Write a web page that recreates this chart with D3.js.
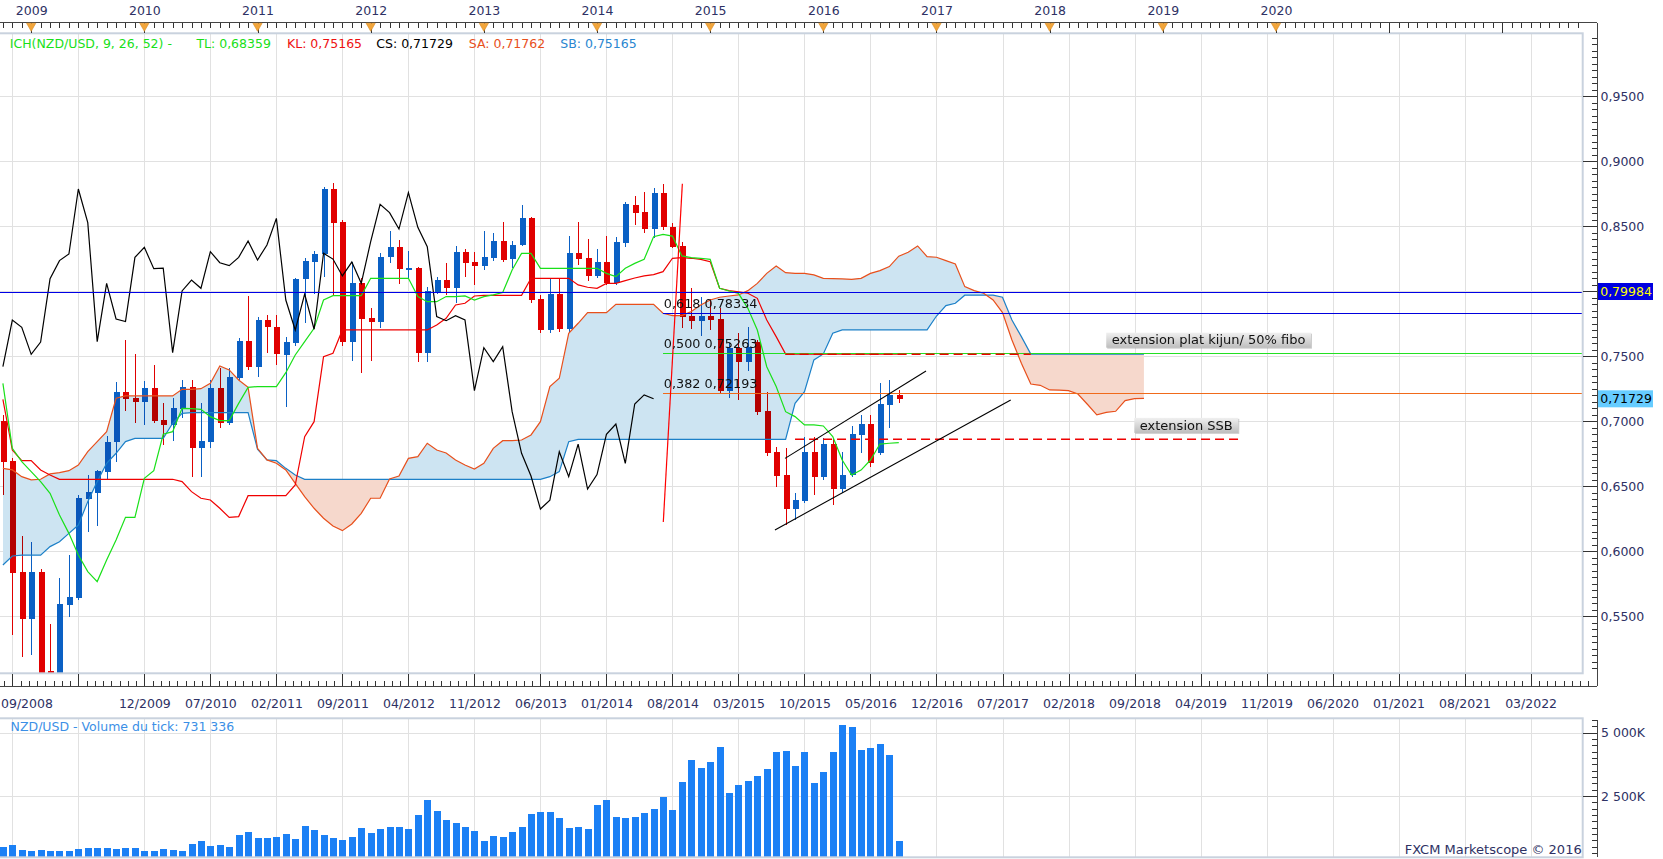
<!DOCTYPE html>
<html><head><meta charset="utf-8">
<script src="https://cdn.jsdelivr.net/npm/d3@7"></script>
<style>
html,body{margin:0;padding:0;background:#fff;}
svg{display:block;font-family:"DejaVu Sans",Verdana,sans-serif;}
</style></head><body>
<svg id="chart" width="1663" height="859"></svg>
<script>
// ---------------- DATA (monthly candles, first = 09/2008) ----------------
const firstMonth = "09/2008";
const open = [0.7000,0.6695,0.5841,0.5482,0.5841,0.5082,0.5040,0.5589,0.5643,0.6405,
0.6451,0.6613,0.6843,0.7225,0.7177,0.7151,0.7256,0.7010,0.6972,0.7095,
0.7264,0.6797,0.6838,0.7256,0.6985,0.7336,0.7618,0.7420,0.7779,0.7725,
0.7513,0.7605,0.8092,0.8225,0.8284,0.8787,0.8533,0.7613,0.8061,0.7797,
0.7767,0.8261,0.8338,0.8177,0.8179,0.7528,0.7997,0.8087,0.8023,0.8305,
0.8225,0.8197,0.8259,0.8387,0.8246,0.8356,0.8561,0.7938,0.7702,0.7979,
0.7710,0.8292,0.8254,0.8118,0.8225,0.8061,0.8374,0.8664,0.8610,0.8479,
0.8759,0.8492,0.8348,0.7813,0.7774,0.7813,0.7787,0.7236,0.7566,0.7459,
0.7613,0.7082,0.6767,0.6587,0.6325,0.6389,0.6766,0.6574,0.6825,0.6479,
0.6587,0.6895,0.6979,0.6759,0.7128,0.7203];
const high = [0.7050,0.6720,0.6118,0.6074,0.5860,0.5441,0.5792,0.5972,0.6430,0.6585,
0.6626,0.6887,0.7305,0.7625,0.7518,0.7313,0.7433,0.7138,0.7177,0.7318,
0.7318,0.7138,0.7318,0.7407,0.7407,0.7643,0.7966,0.7805,0.7818,0.7818,
0.7651,0.8105,0.8259,0.8313,0.8800,0.8836,0.8550,0.8228,0.8100,0.7869,
0.8292,0.8464,0.8395,0.8310,0.8185,0.8036,0.8113,0.8215,0.8349,0.8323,
0.8305,0.8464,0.8451,0.8531,0.8387,0.8664,0.8570,0.7970,0.8100,0.8100,
0.8425,0.8531,0.8402,0.8326,0.8425,0.8420,0.8689,0.8733,0.8766,0.8792,
0.8825,0.8523,0.8380,0.8023,0.7959,0.7938,0.7869,0.7600,0.7677,0.7728,
0.7625,0.7228,0.6805,0.6792,0.6451,0.6882,0.6882,0.6869,0.6869,0.6766,
0.6964,0.7049,0.7049,0.7292,0.7318,0.7241];
const low = [0.6433,0.5356,0.5190,0.5202,0.4990,0.4900,0.4950,0.5492,0.5626,0.6151,
0.6195,0.6549,0.6690,0.7082,0.6990,0.6972,0.6990,0.6818,0.6851,0.7023,
0.6569,0.6574,0.6797,0.6951,0.6970,0.7320,0.7395,0.7343,0.7528,0.7433,
0.7113,0.7580,0.7759,0.7977,0.8113,0.7972,0.7580,0.7464,0.7374,0.7466,
0.7715,0.8215,0.8056,0.8100,0.7459,0.7459,0.7979,0.7972,0.7912,0.8107,
0.8048,0.8164,0.8230,0.8228,0.8177,0.8350,0.7910,0.7682,0.7677,0.7690,
0.7690,0.8202,0.8080,0.8100,0.8048,0.8050,0.8343,0.8510,0.8451,0.8407,
0.8470,0.8330,0.7715,0.7707,0.7656,0.7700,0.7210,0.7177,0.7164,0.7387,
0.7050,0.6730,0.6497,0.6202,0.6240,0.6370,0.6433,0.6550,0.6356,0.6446,
0.6574,0.6759,0.6650,0.6740,0.6951,0.7140];
const close = [0.6690,0.5836,0.5482,0.5841,0.5040,0.5040,0.5595,0.5651,0.6410,0.6456,
0.6620,0.6843,0.7225,0.7169,0.7151,0.7256,0.7005,0.6972,0.7100,0.7261,
0.6797,0.6848,0.7256,0.6985,0.7338,0.7618,0.7420,0.7779,0.7723,0.7515,
0.7610,0.8097,0.8236,0.8287,0.8787,0.8528,0.7613,0.8061,0.7787,0.7767,
0.8261,0.8338,0.8174,0.8179,0.7528,0.8003,0.8087,0.8023,0.8305,0.8220,
0.8197,0.8261,0.8387,0.8241,0.8356,0.8561,0.7933,0.7702,0.7979,0.7708,
0.8292,0.8248,0.8118,0.8225,0.8061,0.8382,0.8669,0.8605,0.8479,0.8759,
0.8492,0.8343,0.7805,0.7774,0.7813,0.7780,0.7236,0.7566,0.7459,0.7574,
0.7074,0.6754,0.6579,0.6325,0.6394,0.6766,0.6574,0.6825,0.6479,0.6590,
0.6900,0.6979,0.6677,0.7133,0.7203,0.71729];
// Ichimoku lines
const tenkan = [0.7292,0.6792,0.6690,0.6613,0.6536,0.6446,0.6279,0.6138,0.5972,0.5844,
0.5767,0.5933,0.6087,0.6261,0.6261,0.6561,0.6620,0.6900,0.6920,0.7100,
0.7097,0.7092,0.7036,0.7005,0.7005,0.7138,0.7261,0.7267,0.7267,0.7267,
0.7374,0.7510,0.7613,0.7715,0.7933,0.7966,0.7966,0.7966,0.7966,0.8100,
0.8100,0.8100,0.8100,0.8100,0.7959,0.7920,0.7920,0.7960,0.7959,0.7964,
0.7933,0.7959,0.7972,0.7990,0.8164,0.8292,0.8292,0.8177,0.8177,0.8177,
0.8177,0.8177,0.8177,0.8177,0.8138,0.8113,0.8177,0.8215,0.8246,0.8420,
0.8438,0.8425,0.8272,0.8259,0.8254,0.8246,0.8023,0.8002,0.7984,0.7869,
0.7702,0.7420,0.7267,0.7074,0.7036,0.6972,0.6972,0.6964,0.6882,0.6702,
0.6587,0.6625,0.6702,0.6825,0.6831,0.68359];
const kijun = [0.7169,0.6779,0.6697,0.6697,0.6626,0.6587,0.6554,0.6554,0.6554,0.6554,
0.6554,0.6554,0.6554,0.6554,0.6554,0.6554,0.6554,0.6554,0.6554,0.6536,
0.6459,0.6408,0.6395,0.6331,0.6261,0.6267,0.6428,0.6428,0.6428,0.6428,
0.6428,0.6510,0.6882,0.6997,0.7497,0.7523,0.7703,0.7703,0.7703,0.7703,
0.7703,0.7703,0.7703,0.7703,0.7703,0.7703,0.7741,0.7792,0.7895,0.7908,
0.7964,0.7969,0.7969,0.7969,0.7969,0.7969,0.8100,0.8100,0.8100,0.8100,
0.8100,0.8049,0.8031,0.8023,0.8061,0.8061,0.8082,0.8102,0.8118,0.8128,
0.8151,0.8254,0.8259,0.8254,0.8246,0.8228,0.8023,0.8005,0.7995,0.7985,
0.7946,0.7779,0.7651,0.75165,0.75165,0.75165,0.75165,0.75165,0.75165,0.75165,
0.75165,0.75165,0.75165,0.75165,0.75165,0.75165];
const senkouA = [0.6638,0.6626,0.6574,0.6549,0.6554,0.6595,0.6605,0.6620,0.6664,0.6767,
0.6844,0.6920,0.7177,0.7195,0.7195,0.7195,0.7195,0.7195,0.7195,0.7246,
0.7246,0.7251,0.7292,0.7426,0.7395,0.7318,0.7261,0.6792,0.6703,0.6677,
0.6626,0.6523,0.6420,0.6331,0.6254,0.6195,0.6159,0.6210,0.6292,0.6408,
0.6408,0.6556,0.6579,0.6715,0.6728,0.6831,0.6779,0.6756,0.6702,0.6664,
0.6633,0.6677,0.6792,0.6851,0.6851,0.6856,0.6895,0.6997,0.7267,0.7331,
0.7677,0.7754,0.7836,0.7836,0.7836,0.7900,0.7900,0.7900,0.7900,0.7900,
0.7831,0.7813,0.7813,0.7844,0.7895,0.7933,0.7954,0.7964,0.7972,0.8005,
0.8061,0.8138,0.8195,0.8143,0.8138,0.8138,0.8126,0.8100,0.8097,0.8095,
0.8092,0.8100,0.8138,0.8159,0.8190,0.8270,0.8300,0.8349,0.8267,0.8262,
0.8236,0.8210,0.8036,0.8005,0.7985,0.7933,0.7836,0.7626,0.7446,0.7287,
0.7277,0.7241,0.7240,0.7236,0.7210,0.7131,0.7049,0.7069,0.7077,0.7159,
0.7174,0.71762];
const senkouB = [0.5895,0.5964,0.5970,0.5970,0.5970,0.6036,0.6074,0.6138,0.6202,0.6382,
0.6536,0.6677,0.6754,0.6844,0.6869,0.6869,0.6869,0.6869,0.6985,0.7061,
0.7067,0.7067,0.7067,0.7067,0.7067,0.7067,0.7067,0.6785,0.6703,0.6697,
0.6638,0.6587,0.6554,0.6554,0.6554,0.6554,0.6554,0.6554,0.6554,0.6554,
0.6554,0.6554,0.6554,0.6554,0.6554,0.6554,0.6554,0.6554,0.6554,0.6554,
0.6554,0.6554,0.6554,0.6554,0.6554,0.6554,0.6554,0.6554,0.6574,0.6613,
0.6843,0.6861,0.6861,0.6861,0.6861,0.6861,0.6861,0.6861,0.6861,0.6861,
0.6861,0.6861,0.6861,0.6861,0.6861,0.6861,0.6861,0.6861,0.6861,0.6861,
0.6861,0.6861,0.6861,0.6861,0.7138,0.7228,0.7472,0.7518,0.7677,0.7703,
0.7703,0.7703,0.7703,0.7703,0.7703,0.7703,0.7703,0.7703,0.7703,0.7810,
0.7890,0.7908,0.7970,0.7970,0.7970,0.7970,0.7954,0.7779,0.7651,0.75165,
0.75165,0.75165,0.75165,0.75165,0.75165,0.75165,0.75165,0.75165,0.75165,0.75165,
0.75165,0.75165];
const chikouShift = 26;
// tick volume, thousands
const tickVolumeK = [481,561,361,321,361,321,321,321,414,441,
441,441,401,441,441,321,321,401,348,321,
602,722,521,561,481,963,1083,842,842,882,
1003,802,1324,1163,963,842,762,882,1243,1043,
1203,1283,1283,1203,1765,2326,1925,1564,1444,1283,
1123,722,922,882,1083,1283,1805,1885,1885,1644,
1243,1283,1203,2126,2326,1684,1644,1684,1845,2005,
2447,1965,3048,3930,3610,3850,4452,2607,2928,3088,
3289,3570,4251,4291,3690,4251,3008,3449,4251,5294,
5214,4332,4412,4572,4131,731.336];
// ticks
const priceTicks = [0.55,0.60,0.65,0.70,0.75,0.80,0.85,0.90,0.95];
const volumeTicks = [2500,5000];
const volumeTickLabels = ["2 500K","5 000K"];
const yearLabels = ["2009","2010","2011","2012","2013","2014","2015","2016","2017","2018","2019","2020"];
const dateTickLabels = ["12/2009","07/2010","02/2011","09/2011","04/2012","11/2012","06/2013","01/2014","08/2014","03/2015","10/2015","05/2016","12/2016","07/2017","02/2018","09/2018","04/2019","11/2019","06/2020","01/2021","08/2021","03/2022"];
// drawings
const markedLevel = 0.79984;
const fibRatios = ["0,618","0,500","0,382"];
const fibLevels = [0.78334,0.75263,0.72193];
const fibTrend = [[70.03,0.6225],[72.05,0.8827]];
const channelUpper = [[82.94,0.6715],[97.89,0.7387]];
const channelLower = [[81.87,0.6164],[106.87,0.7164]];
const kijunExtension = [[83,0.75165],[109,0.75165]];
const ssbExtension = [[84,0.6861],[131,0.6861]];
const noteTexts = ["extension plat kijun/ 50% fibo","extension SSB"];
const noteAnchors = [[117.0,0.75165,"start"],[131,0.6861,"end"]];

// ---------------- LAYOUT ----------------
const P = {left:0, right:1582.7, top:33.3, bottom:673.3};
const V = {top:718.3, bottom:857.3};
const AX = 1597;
const TOPAX = 22.7, BOTAX = 686;
const C = {bull:"#0a60c4", bear:"#e00000", tenkan:"#19e019", kijun:"#f00000", chikou:"#000",
  sa:"#e8501c", sb:"#1c80c8", cloudUp:"#cde4f2", cloudDn:"#f6d8cc", grid:"#e1e1e1",
  frame:"#c9d2de", axisText:"#2e3164", vol:"#1b80f5"};
const FONT = 12.5;

const monthIdx = s => { const [m,yy] = s.split("/").map(Number); const [m0,y0] = firstMonth.split("/").map(Number); return (yy-y0)*12 + (m-m0); };

const x = d3.scaleLinear().domain([0,162]).range([2.9,1530.6]);
const y = d3.scaleLinear().domain([0.50615,0.99846]).range([P.bottom,P.top]);
const yv = d3.scaleLinear().domain([0,5000]).range([859.3,732.7]);
const fmt4 = v => d3.format(".4f")(v).replace(".",",");
const fmt5 = v => d3.format(".5f")(v).replace(".",",");
const crisp = v => Math.round(v)+0.5;

const svg = d3.select("#chart");
const defs = svg.append("defs");
defs.append("clipPath").attr("id","plotClip").append("rect")
  .attr("x",P.left).attr("y",P.top).attr("width",P.right-P.left).attr("height",P.bottom-P.top);
defs.append("clipPath").attr("id","volClip").append("rect")
  .attr("x",P.left).attr("y",V.top).attr("width",P.right-P.left).attr("height",V.bottom-V.top);
const grad = defs.append("linearGradient").attr("id","noteGrad").attr("x1",0).attr("y1",0).attr("x2",0).attr("y2",1);
grad.append("stop").attr("offset","0%").attr("stop-color","#f0f0f0");
grad.append("stop").attr("offset","100%").attr("stop-color","#bebebe");

const lastIdx = close.length-1;
const maxIdx = Math.floor(x.invert(P.right));
const gridIdx = d3.range(1, maxIdx+1, 7);

// ---------------- GRID ----------------
const grid = svg.append("g").attr("shape-rendering","crispEdges");
grid.selectAll("line.vg").data(gridIdx).join("line")
  .attr("x1",d=>crisp(x(d))).attr("x2",d=>crisp(x(d))).attr("y1",P.top).attr("y2",P.bottom).attr("stroke",C.grid);
grid.selectAll("line.vv").data(gridIdx).join("line")
  .attr("x1",d=>crisp(x(d))).attr("x2",d=>crisp(x(d))).attr("y1",V.top).attr("y2",V.bottom).attr("stroke",C.grid);
grid.selectAll("line.hg").data(priceTicks).join("line")
  .attr("x1",P.left).attr("x2",P.right).attr("y1",d=>crisp(y(d))).attr("y2",d=>crisp(y(d))).attr("stroke",C.grid);
grid.selectAll("line.hv").data(volumeTicks).join("line")
  .attr("x1",P.left).attr("x2",P.right).attr("y1",d=>crisp(yv(d))).attr("y2",d=>crisp(yv(d))).attr("stroke",C.grid);

// ---------------- MAIN PLOT ----------------
const plot = svg.append("g").attr("clip-path","url(#plotClip)");
const idx = d3.range(close.length);
const col = i => close[i] >= open[i] ? C.bull : C.bear;
const cg = plot.append("g").attr("shape-rendering","crispEdges");
cg.selectAll("line").data(idx).join("line")
  .attr("x1",i=>Math.round(x(i))+0.5).attr("x2",i=>Math.round(x(i))+0.5)
  .attr("y1",i=>y(high[i])).attr("y2",i=>y(low[i])).attr("stroke",col).attr("stroke-width",1.2);
cg.selectAll("rect").data(idx).join("rect")
  .attr("x",i=>Math.round(x(i))-2.5).attr("width",6)
  .attr("y",i=>y(Math.max(open[i],close[i])))
  .attr("height",i=>Math.max(1.5, Math.abs(y(open[i])-y(close[i]))))
  .attr("fill",col);

// cloud (multiply over candles)
const cIdx = d3.range(senkouA.length);
const cloud = plot.append("g").style("mix-blend-mode","multiply");
defs.append("clipPath").attr("id","belowA").append("path")
  .attr("d", d3.area().x(i=>x(i)).y0(P.bottom+50).y1(i=>y(senkouA[i]))(cIdx));
defs.append("clipPath").attr("id","aboveA").append("path")
  .attr("d", d3.area().x(i=>x(i)).y0(P.top-50).y1(i=>y(senkouA[i]))(cIdx));
cloud.append("path").attr("clip-path","url(#belowA)").attr("fill",C.cloudUp)
  .attr("d", d3.area().x(i=>x(i)).y0(i=>y(senkouB[i])).y1(P.top-50)(cIdx));
cloud.append("path").attr("clip-path","url(#aboveA)").attr("fill",C.cloudDn)
  .attr("d", d3.area().x(i=>x(i)).y0(i=>y(senkouB[i])).y1(P.bottom+50)(cIdx));

const lineOf = arr => d3.line().x((d,i)=>x(i)).y(d=>y(d))(arr);
const ptsLine = d3.line().x(d=>x(d[0])).y(d=>y(d[1]));
plot.append("path").attr("d",lineOf(senkouB)).attr("fill","none").attr("stroke",C.sb).attr("stroke-width",1.2);
plot.append("path").attr("d",lineOf(senkouA)).attr("fill","none").attr("stroke",C.sa).attr("stroke-width",1.2);
plot.append("path").attr("d",lineOf(kijun)).attr("fill","none").attr("stroke",C.kijun).attr("stroke-width",1.2);
plot.append("path").attr("d",lineOf(tenkan)).attr("fill","none").attr("stroke",C.tenkan).attr("stroke-width",1.2);
const chikou = close.slice(chikouShift).map((c,k)=>[k,c]);
plot.append("path").attr("d",ptsLine(chikou)).attr("fill","none").attr("stroke",C.chikou).attr("stroke-width",1.2);

// horizontal drawings
const hl = plot.append("g").attr("shape-rendering","crispEdges");
hl.append("line").attr("x1",P.left).attr("x2",P.right).attr("y1",crisp(y(markedLevel))).attr("y2",crisp(y(markedLevel)))
  .attr("stroke","#0000e6").attr("stroke-width",1);
const fibColors = ["#0000dd","#22e022","#f06a1a"];
const fibX0 = x(fibTrend[0][0]);
fibLevels.forEach((v,k)=>{
  hl.append("line").attr("x1",fibX0).attr("x2",P.right).attr("y1",crisp(y(v))).attr("y2",crisp(y(v)))
    .attr("stroke",fibColors[k]).attr("stroke-width",1);
});
plot.append("path").attr("d",ptsLine(fibTrend)).attr("stroke","#ff0000").attr("stroke-width",1.2).attr("fill","none");
[kijunExtension, ssbExtension].forEach(seg=>{
  plot.append("path").attr("d",ptsLine(seg)).attr("stroke","#ee0000").attr("stroke-width",1.5)
    .attr("stroke-dasharray","9,5").attr("fill","none");
});
[channelUpper, channelLower].forEach(seg=>{
  plot.append("path").attr("d",ptsLine(seg)).attr("stroke","#000").attr("stroke-width",1.1).attr("fill","none");
});
// fib labels
fibLevels.forEach((v,k)=>{
  plot.append("text").attr("x",fibX0+0.5).attr("y",y(v)-4.5).attr("font-size",12.8).attr("fill","#111")
    .text(`${fibRatios[k]} ${fmt5(v)}`);
});
// note boxes
noteTexts.forEach((t,k)=>{
  const [ni,nv,anchor] = noteAnchors[k];
  const g = plot.append("g");
  const tx = g.append("text").attr("font-size",13).attr("fill","#111").text(t);
  const w = tx.node().getComputedTextLength();
  const bw = w+11, bh = 15;
  const bx = anchor==="start" ? x(ni) : x(ni)-bw;
  const by = y(nv)-6.5-bh;
  g.insert("rect","text").attr("x",bx+1).attr("y",by+1).attr("width",bw).attr("height",bh).attr("fill","#9a9a9a").attr("opacity",0.5);
  g.insert("rect","text").attr("x",bx).attr("y",by).attr("width",bw).attr("height",bh).attr("fill","url(#noteGrad)");
  tx.attr("x",bx+5.5).attr("y",by+bh-3.3);
});

// frame
svg.append("rect").attr("x",P.left-1).attr("y",P.top).attr("width",P.right-P.left+1).attr("height",P.bottom-P.top)
  .attr("fill","none").attr("stroke",C.frame).attr("stroke-width",2);

// legend
const legendX = [9.8,196.4,287,376.3,468.8,560.3];
const legend = [
  ["ICH(NZD/USD, 9, 26, 52) -", C.tenkan],
  [`TL: ${fmt5(tenkan[lastIdx])}`, C.tenkan],
  [`KL: ${fmt5(kijun[lastIdx])}`, "#ee1111"],
  [`CS: ${fmt5(close[lastIdx])}`, "#000"],
  [`SA: ${fmt5(senkouA[senkouA.length-1])}`, C.sa],
  [`SB: ${fmt5(senkouB[senkouB.length-1])}`, "#2a86d0"]];
legend.forEach((d,k)=>svg.append("text").attr("x",legendX[k]).attr("y",47.8).attr("font-size",FONT).attr("fill",d[1]).text(d[0]));

// ---------------- VOLUME ----------------
const vol = svg.append("g").attr("clip-path","url(#volClip)").attr("shape-rendering","crispEdges");
vol.selectAll("rect").data(idx).join("rect")
  .attr("x",i=>Math.round(x(i))-2.7).attr("width",6.5)
  .attr("y",i=>yv(tickVolumeK[i])).attr("height",i=>V.bottom-yv(tickVolumeK[i])+2)
  .attr("fill",C.vol);
svg.append("rect").attr("x",P.left-1).attr("y",V.top).attr("width",P.right-P.left+1).attr("height",V.bottom-V.top)
  .attr("fill","none").attr("stroke",C.frame).attr("stroke-width",2);
svg.append("text").attr("x",10.6).attr("y",731.2).attr("font-size",FONT).attr("fill","#3b8fe6")
  .text(`NZD/USD - Volume du tick: ${d3.format(",")(Math.round(tickVolumeK[lastIdx]*1000)).replace(/,/g," ")}`);
svg.append("text").attr("x",P.right-1).attr("y",853.8).attr("text-anchor","end").attr("font-size",13).attr("fill",C.axisText)
  .text("FXCM Marketscope © 2016");

// ---------------- AXES ----------------
function styleAxis(g){
  g.attr("font-family",null).attr("font-size",null);
  g.select(".domain").remove();
  g.selectAll(".tick line").attr("stroke","#333").attr("shape-rendering","crispEdges");
  g.selectAll(".tick text").attr("fill",C.axisText).attr("font-size",FONT).attr("font-family","DejaVu Sans");
}
const axl = svg.append("g").attr("stroke","#444").attr("shape-rendering","crispEdges");
axl.append("line").attr("x1",0).attr("x2",AX).attr("y1",TOPAX).attr("y2",TOPAX);
axl.append("line").attr("x1",0).attr("x2",AX).attr("y1",BOTAX).attr("y2",BOTAX);
axl.append("line").attr("x1",AX).attr("x2",AX).attr("y1",TOPAX).attr("y2",BOTAX);
axl.append("line").attr("x1",AX).attr("x2",AX).attr("y1",V.top+2).attr("y2",V.bottom);

// top axis (years)
const allMonths = d3.range(0, maxIdx+1);
const yearIdx = yearLabels.map(yl => monthIdx(`12/${+yl-1}`));
const yearMajor = d3.range(yearIdx[0], maxIdx+1, 12);
svg.append("g").attr("transform",`translate(0,${TOPAX})`)
  .call(d3.axisBottom(x).tickValues(allMonths).tickSize(5).tickFormat("").tickSizeOuter(0)).call(styleAxis);
svg.append("g").attr("transform",`translate(0,${TOPAX})`)
  .call(d3.axisBottom(x).tickValues(yearMajor).tickSize(10).tickFormat("").tickSizeOuter(0)).call(styleAxis);
svg.append("g").attr("transform",`translate(0,${TOPAX})`)
  .call(d3.axisTop(x).tickValues(yearIdx).tickSize(0).tickPadding(7.6).tickFormat((d,k)=>yearLabels[k]).tickSizeOuter(0)).call(styleAxis);
svg.append("g").selectAll("path").data(yearIdx).join("path")
  .attr("d",d=>`M${x(d)-4.6},${TOPAX+0.5}L${x(d)+4.6},${TOPAX+0.5}L${x(d)},${TOPAX+8.6}Z`)
  .attr("fill","#f2a53a").attr("stroke","#d88a20").attr("stroke-width",0.6);

// bottom axis (dates)
const minorBottom = [];
gridIdx.forEach(g0=>{ for(let m=1;m<8;m++) minorBottom.push(g0 + m*7/8); });
for(let m=1;m<8;m++) minorBottom.push(gridIdx[0] - m*7/8);
svg.append("g").attr("transform",`translate(0,${BOTAX})`)
  .call(d3.axisBottom(x).tickValues(minorBottom.filter(d=>x(d)>=0 && x(d)<=AX)).tickSize(-5).tickFormat("").tickSizeOuter(0)).call(styleAxis);
svg.append("g").attr("transform",`translate(0,${BOTAX})`)
  .call(d3.axisBottom(x).tickValues(gridIdx).tickSize(-12).tickFormat("").tickSizeOuter(0)).call(styleAxis);
svg.append("g").attr("transform",`translate(0,${BOTAX})`)
  .call(d3.axisBottom(x).tickValues(dateTickLabels.map(monthIdx)).tickSize(0).tickPadding(12.9)
    .tickFormat((d,k)=>dateTickLabels[k]).tickSizeOuter(0)).call(styleAxis);
svg.append("text").attr("x",1).attr("y",707.8).attr("font-size",FONT).attr("fill",C.axisText).text(firstMonth);

// right price axis (a label hidden under the marker box is not drawn, as in the reference)
const markers = [[markedLevel,"#0000e0","#ffff00"],[close[lastIdx],"#66ccff","#000"]];
const hidden = v => markers.some(m => Math.abs(y(m[0])-y(v)) < 13);
const minorPrice = d3.range(0.510, 0.999, 0.005).filter(v=>!priceTicks.some(p=>Math.abs(p-v)<1e-6));
svg.append("g").attr("transform",`translate(${AX},0)`)
  .call(d3.axisRight(y).tickValues(minorPrice).tickSize(-5).tickFormat("").tickSizeOuter(0)).call(styleAxis);
svg.append("g").attr("transform",`translate(${AX},0)`)
  .call(d3.axisRight(y).tickValues(priceTicks).tickSize(-14).tickPadding(3.5).tickFormat(v=>hidden(v)?"":fmt4(v)).tickSizeOuter(0)).call(styleAxis);
markers.forEach(([v,bg,fg])=>{
  svg.append("rect").attr("x",AX+1).attr("y",y(v)-8.5).attr("width",55).attr("height",17).attr("fill",bg);
  svg.append("text").attr("x",AX+3.2).attr("y",y(v)).attr("dy","0.36em").attr("font-size",FONT).attr("fill",fg).text(fmt5(v));
});

// volume axis
const minorVol = d3.range(250, 5750, 250).filter(v=>!volumeTicks.includes(v));
svg.append("g").attr("transform",`translate(${AX},0)`)
  .call(d3.axisRight(yv).tickValues(minorVol).tickSize(-5).tickFormat("").tickSizeOuter(0)).call(styleAxis);
svg.append("g").attr("transform",`translate(${AX},0)`)
  .call(d3.axisRight(yv).tickValues(volumeTicks).tickSize(-14).tickPadding(4).tickFormat((d,k)=>volumeTickLabels[k]).tickSizeOuter(0)).call(styleAxis);
</script>
</body></html>
